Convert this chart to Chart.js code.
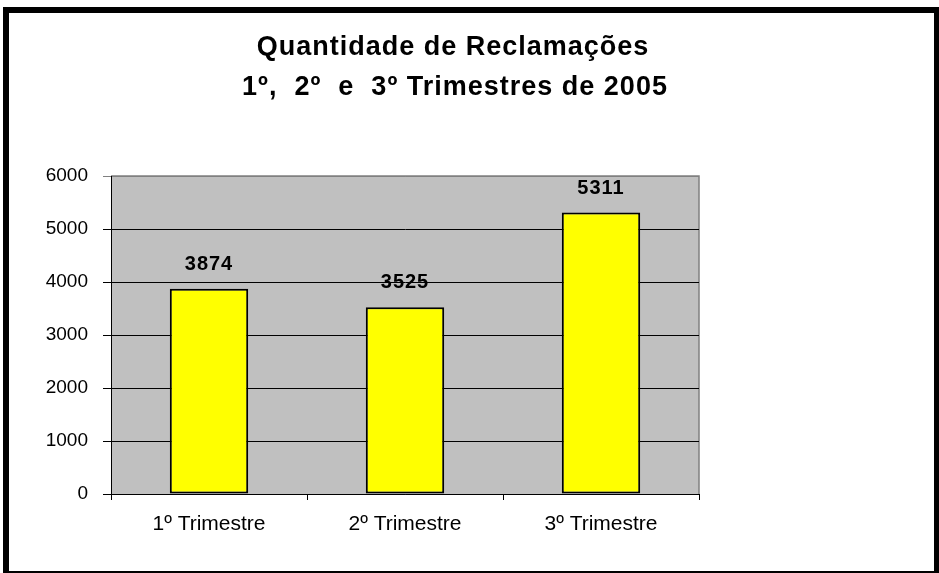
<!DOCTYPE html>
<html>
<head>
<meta charset="utf-8">
<script src="https://cdn.jsdelivr.net/npm/chart.js@4.4.1/dist/chart.umd.min.js"></script>
<style>
  html, body { margin: 0; padding: 0; background: #fff; }
  canvas { display: block; }
</style>
</head>
<body>
<canvas id="chart" width="939" height="573"></canvas>
<script>
// --- dados ---
const titleLines = ['Quantidade de Reclamações', '1º,  2º  e  3º Trimestres de 2005'];
const categories = ['1º Trimestre', '2º Trimestre', '3º Trimestre'];
const reclamacoes = [3874, 3525, 5311];
const yMin = 0;
const yMax = 6000;
const yStep = 1000;

const FONT = '"Liberation Sans", Arial, Helvetica, sans-serif';

// fundo, moldura e titulo
const framePlugin = {
  id: 'frame',
  beforeDraw(chart) {
    const ctx = chart.ctx;
    const a = chart.chartArea;
    ctx.save();
    ctx.fillStyle = '#ffffff';
    ctx.fillRect(0, 0, chart.width, chart.height);
    // area do grafico cinza
    ctx.fillStyle = '#C0C0C0';
    ctx.fillRect(a.left, a.top, a.right - a.left, a.bottom - a.top);
    ctx.strokeStyle = '#808080';
    ctx.lineWidth = 1.5;
    ctx.beginPath();
    ctx.moveTo(a.left, a.top);
    ctx.lineTo(a.right, a.top);
    ctx.lineTo(a.right, a.bottom);
    ctx.stroke();
    ctx.restore();
  },
  afterDraw(chart) {
    const ctx = chart.ctx;
    ctx.save();
    // titulo
    ctx.fillStyle = '#000';
    ctx.font = 'bold 27px ' + FONT;
    ctx.textAlign = 'center';
    ctx.textBaseline = 'alphabetic';
    ctx.letterSpacing = '1px';
    ctx.fillText(titleLines[0], 453, 55);
    ctx.fillText(titleLines[1], 455, 95);
    ctx.letterSpacing = '0px';
    // moldura preta
    ctx.strokeStyle = '#000';
    ctx.lineWidth = 6;
    ctx.strokeRect(6, 10, 931, 564);
    ctx.restore();
  }
};

// rotulos de valor acima das barras
const valueLabels = {
  id: 'valueLabels',
  afterDatasetsDraw(chart) {
    const ctx = chart.ctx;
    const meta = chart.getDatasetMeta(0);
    ctx.save();
    ctx.fillStyle = '#000';
    ctx.font = 'bold 20px ' + FONT;
    ctx.textAlign = 'center';
    ctx.textBaseline = 'alphabetic';
    ctx.letterSpacing = '1px';
    meta.data.forEach((bar, i) => {
      ctx.fillText(String(reclamacoes[i]), bar.x, bar.y - 19);
    });
    ctx.letterSpacing = '0px';
    ctx.restore();
  }
};

new Chart(document.getElementById('chart'), {
  type: 'bar',
  data: {
    labels: categories,
    datasets: [{
      data: reclamacoes,
      backgroundColor: '#FFFF00',
      borderColor: '#000000',
      borderWidth: 2,
      borderSkipped: false,
      barPercentage: 0.4,
      categoryPercentage: 1.0
    }]
  },
  options: {
    responsive: false,
    animation: false,
    layout: { padding: { left: 0, right: 240, top: 176, bottom: 0 } },
    plugins: {
      legend: { display: false },
      title: { display: false },
      tooltip: { enabled: false }
    },
    scales: {
      x: {
        afterFit(scale) { scale.height = 79; },
        grid: {
          offset: true,
          drawOnChartArea: false,
          drawTicks: true,
          tickLength: 6,
          color: '#000',
          lineWidth: 1
        },
        border: { display: true, color: '#000', width: 1 },
        ticks: {
          color: '#000',
          padding: 12,
          font: { family: FONT, size: 21 }
        }
      },
      y: {
        min: yMin,
        max: yMax,
        afterFit(scale) { scale.width = 111; },
        grid: {
          drawTicks: true,
          tickLength: 8,
          color: ctx => (ctx.tick && ctx.tick.value === yMax ? '#808080' : '#000'),
          lineWidth: 1
        },
        border: { display: true, color: '#000', width: 1 },
        ticks: {
          stepSize: yStep,
          color: '#000',
          padding: 15,
          font: { family: FONT, size: 19 },
          callback: v => String(v)
        }
      }
    }
  },
  plugins: [framePlugin, valueLabels]
});
</script>
</body>
</html>
